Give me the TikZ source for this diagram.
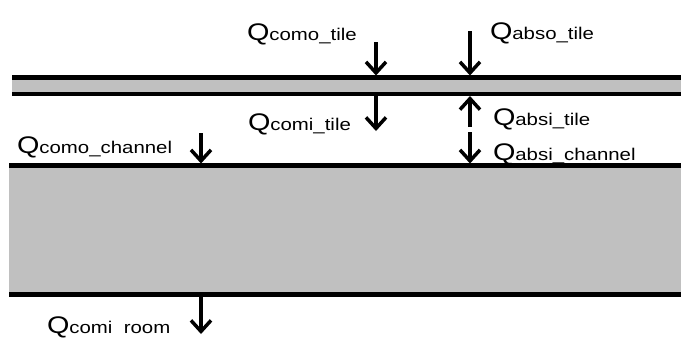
\documentclass[tikz,border=0pt]{standalone}
\usepackage{fontspec}
\usetikzlibrary{arrows.meta}
\newfontfamily\lblfont[FakeStretch=1.2]{Liberation Sans}
\newcommand{\qlbl}[1]{{\lblfont\fontsize{24}{24}\selectfont Q}{\lblfont\fontsize{17}{17}\selectfont #1}}
\definecolor{layergray}{RGB}{192,192,192}
\begin{document}
\begin{tikzpicture}[x=1pt,y=-1pt,
  edge/.style={line width=4.5pt,black},
  flux/.style={line width=3.5pt,-{Straight Barb[length=11pt,width=20pt,line width=3.5pt]}},
  lbl/.style={anchor=base west,inner sep=0pt,outer sep=0pt}]
\useasboundingbox (0,0) rectangle (681,338);
% layers
\fill[layergray] (12,77.5) rectangle (681,94);
\fill[layergray] (9,165.5) rectangle (681,294.5);
\draw[edge] (12,77.5) -- (681,77.5);
\draw[edge] (12,94) -- (681,94);
\draw[edge] (9,165.5) -- (681,165.5);
\draw[edge] (9,294.5) -- (681,294.5);
% arrow end points
\coordinate (ct1) at (376,42);  \coordinate (ct2) at (376,75.5);
\coordinate (at1) at (470,31);  \coordinate (at2) at (470,75.5);
\coordinate (ci1) at (376,96);  \coordinate (ci2) at (376,131);
\coordinate (ai1) at (470,127); \coordinate (ai2) at (470,96);
\coordinate (ac1) at (470,132); \coordinate (ac2) at (470,163.5);
\coordinate (cc1) at (201,133); \coordinate (cc2) at (201,163.5);
\coordinate (cr1) at (201,296.5); \coordinate (cr2) at (201,334);
\draw[flux] (ct1) -- (ct2);
\draw[flux] (at1) -- (at2);
\draw[flux] (ci1) -- (ci2);
\draw[flux] (ai1) -- (ai2);
\draw[flux] (ac1) -- (ac2);
\draw[flux] (cc1) -- (cc2);
\draw[flux] (cr1) -- (cr2);
% labels
\node[lbl] (lct) at (247,40) {\qlbl{como\_tile}};
\node[lbl] (lat) at (490,39) {\qlbl{abso\_tile}};
\node[lbl] (lci) at (248,130) {\qlbl{comi\_tile}};
\node[lbl] (lai) at (493,125) {\qlbl{absi\_tile}};
\node[lbl] (lac) at (493,160) {\qlbl{absi\_channel}};
\node[lbl] (lcc) at (17,153) {\qlbl{como\_channel}};
\node[lbl] (lcr) at (47,333) {\qlbl{comi\ \ room}};
\end{tikzpicture}
\end{document}
